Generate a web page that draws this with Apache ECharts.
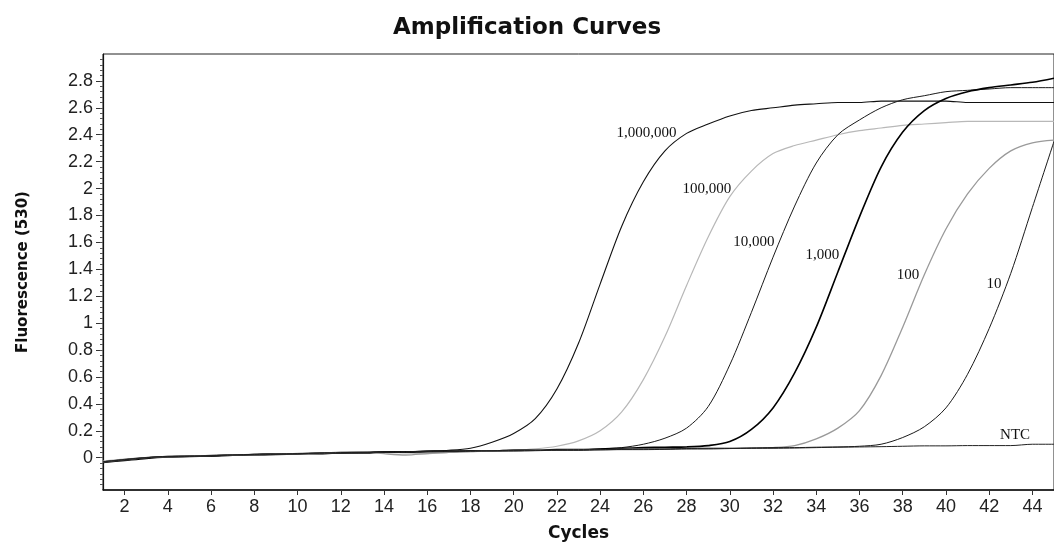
<!DOCTYPE html>
<html>
<head>
<meta charset="utf-8">
<title>Amplification Curves</title>
<script src="https://cdn.jsdelivr.net/npm/echarts@6/dist/echarts.min.js"></script>
<style>
  html, body { margin: 0; padding: 0; background: #fff; }
  #chart { width: 1054px; height: 547px; }
</style>
</head>
<body>
<div id="chart"></div>
<script>
// PCR cycle numbers (one fluorescence reading per cycle)
const cycles = [1, 2, 3, 4, 5, 6, 7, 8, 9, 10, 11, 12, 13, 14, 15, 16, 17, 18, 19, 20,
  21, 22, 23, 24, 25, 26, 27, 28, 29, 30, 31, 32, 33, 34, 35, 36, 37, 38, 39, 40,
  41, 42, 43, 44, 45];

// Fluorescence (530 nm) per template copy number
const copies1000000 = [-0.03, -0.015, 0, 0.008, 0.01, 0.015, 0.02, 0.025, 0.03, 0.03,
  0.035, 0.04, 0.04, 0.045, 0.045, 0.05, 0.055, 0.07, 0.115, 0.18,
  0.29, 0.51, 0.85, 1.29, 1.72, 2.05, 2.28, 2.41, 2.48, 2.54,
  2.58, 2.60, 2.62, 2.63, 2.64, 2.64, 2.65, 2.65, 2.65, 2.65,
  2.64, 2.64, 2.64, 2.64, 2.64];
const copies100000 = [-0.025, -0.01, 0, 0.01, 0.012, 0.015, 0.02, 0.02, 0.025, 0.03,
  0.03, 0.035, 0.04, 0.04, 0.035, 0.03, 0.04, 0.045, 0.05, 0.055,
  0.065, 0.085, 0.125, 0.2, 0.34, 0.58, 0.9, 1.28, 1.64, 1.94,
  2.13, 2.26, 2.32, 2.36, 2.40, 2.43, 2.45, 2.47, 2.48, 2.49,
  2.50, 2.50, 2.50, 2.50, 2.50];
const copies10000 = [-0.03, -0.012, 0.002, 0.01, 0.012, 0.018, 0.022, 0.025, 0.028, 0.032,
  0.035, 0.038, 0.04, 0.042, 0.045, 0.048, 0.05, 0.05, 0.052, 0.055,
  0.055, 0.058, 0.06, 0.065, 0.075, 0.1, 0.145, 0.22, 0.38, 0.69,
  1.08, 1.49, 1.87, 2.19, 2.40, 2.51, 2.60, 2.66, 2.69, 2.72,
  2.73, 2.74, 2.75, 2.75, 2.75];
const copies1000 = [-0.035, -0.02, -0.005, 0.005, 0.01, 0.012, 0.018, 0.02, 0.025, 0.028,
  0.03, 0.035, 0.035, 0.04, 0.04, 0.045, 0.045, 0.05, 0.05, 0.055,
  0.055, 0.06, 0.06, 0.065, 0.07, 0.075, 0.078, 0.08, 0.09, 0.12,
  0.21, 0.37, 0.63, 0.97, 1.38, 1.79, 2.16, 2.42, 2.58, 2.67,
  2.72, 2.75, 2.77, 2.79, 2.82];
const copies100 = [-0.03, -0.015, 0, 0.008, 0.012, 0.015, 0.02, 0.022, 0.028, 0.03,
  0.033, 0.04, 0.045, 0.03, 0.02, 0.03, 0.04, 0.045, 0.05, 0.05,
  0.055, 0.055, 0.06, 0.06, 0.062, 0.065, 0.065, 0.068, 0.07, 0.07,
  0.072, 0.075, 0.09, 0.14, 0.22, 0.35, 0.61, 0.97, 1.36, 1.70,
  1.96, 2.15, 2.28, 2.34, 2.36];
const copies10 = [-0.03, -0.015, 0, 0.01, 0.01, 0.015, 0.02, 0.025, 0.028, 0.03,
  0.035, 0.038, 0.04, 0.042, 0.045, 0.048, 0.05, 0.05, 0.052, 0.055,
  0.055, 0.058, 0.06, 0.06, 0.062, 0.065, 0.065, 0.068, 0.07, 0.07,
  0.072, 0.075, 0.075, 0.078, 0.08, 0.085, 0.10, 0.15, 0.23, 0.37,
  0.62, 0.96, 1.37, 1.86, 2.35];
const noTemplate = [-0.03, -0.015, 0, 0.008, 0.012, 0.015, 0.02, 0.022, 0.025, 0.03,
  0.032, 0.035, 0.038, 0.04, 0.04, 0.045, 0.045, 0.048, 0.05, 0.05,
  0.052, 0.055, 0.055, 0.058, 0.06, 0.06, 0.062, 0.065, 0.065, 0.068,
  0.07, 0.07, 0.072, 0.075, 0.078, 0.08, 0.082, 0.085, 0.088, 0.088,
  0.09, 0.09, 0.09, 0.1, 0.1];

// Curve names and the cycle at which each name is written beside its curve
const curveNames = ['1,000,000', '100,000', '10,000', '1,000', '100', '10', 'NTC'];
const labelCycles = [28, 30.3, 32.3, 35.3, 39.0, 42.8, 43.2];

// Axis tick labels
const xTickLabels = [2, 4, 6, 8, 10, 12, 14, 16, 18, 20, 22, 24, 26, 28, 30, 32, 34, 36, 38, 40, 42, 44];
const yTickLabels = [0, 0.2, 0.4, 0.6, 0.8, 1, 1.2, 1.4, 1.6, 1.8, 2, 2.2, 2.4, 2.6, 2.8];

const curveValues = [copies1000000, copies100000, copies10000, copies1000, copies100, copies10, noTemplate];

// line look per curve: [colour, width]
const curveStyles = [
  ['#111111', 1.1],
  ['#b8b8b8', 1.2],
  ['#1a1a1a', 1.0],
  ['#000000', 1.6],
  ['#9a9a9a', 1.3],
  ['#1a1a1a', 1.0],
  ['#222222', 1.0]
];

// linear read-off of a curve at a fractional cycle
function valueAt(values, cycle) {
  const i = Math.floor(cycle) - 1;
  const f = cycle - Math.floor(cycle);
  if (i >= values.length - 1) return values[values.length - 1];
  return values[i] + (values[i + 1] - values[i]) * f;
}

// small minor ticks along the fluorescence axis
const minorTicks = [];
for (let k = -5; k <= 74; k++) minorTicks.push(+(k * 0.04).toFixed(2));

const series = curveNames.map(function (name, idx) {
  const vals = curveValues[idx];
  const isNtc = name === 'NTC';
  const lc = labelCycles[idx];
  return {
    name: name,
    type: 'line',
    yAxisIndex: 0,
    data: cycles.map(function (c, i) { return [c, vals[i]]; }),
    showSymbol: false,
    smooth: 0.3,
    clip: true,
    lineStyle: { color: curveStyles[idx][0], width: curveStyles[idx][1] },
    emphasis: { disabled: true },
    z: isNtc ? 3 : 2,
    markPoint: {
      silent: true,
      symbol: 'circle',
      symbolSize: 0,
      data: [{
        coord: [lc, valueAt(vals, lc)],
        label: {
          show: true,
          formatter: name,
          position: isNtc ? 'top' : 'left',
          distance: isNtc ? 3 : (idx === 0 ? 10 : 5),
          fontFamily: 'Liberation Serif',
          fontSize: 15,
          color: '#111'
        }
      }]
    }
  };
});

const chart = echarts.init(document.getElementById('chart'), null, { renderer: 'canvas' });
chart.setOption({
  animation: false,
  backgroundColor: '#ffffff',
  title: {
    text: 'Amplification Curves',
    left: 'center',
    top: 12,
    textStyle: {
      fontFamily: 'DejaVu Sans',
      fontWeight: 'bold',
      fontSize: 23,
      color: '#111'
    }
  },
  grid: {
    left: 103,
    right: -10,
    top: 54,
    bottom: 55,
    show: true,
    borderColor: '#222',
    borderWidth: 1,
    containLabel: false
  },
  xAxis: {
    type: 'value',
    min: 1,
    max: 45,
    name: 'Cycles',
    nameLocation: 'middle',
    nameGap: 35,
    nameTextStyle: {
      fontFamily: 'DejaVu Sans',
      fontWeight: 'bold',
      fontSize: 17,
      color: '#111'
    },
    axisLine: { show: true, onZero: false, lineStyle: { color: '#111', width: 1.5 } },
    axisTick: {
      show: true,
      customValues: xTickLabels,
      length: 5,
      lineStyle: { color: '#333' }
    },
    axisLabel: {
      customValues: xTickLabels,
      margin: 8,
      fontFamily: 'Liberation Sans',
      fontSize: 18,
      color: '#222'
    },
    splitLine: { show: false }
  },
  yAxis: [{
    type: 'value',
    min: -0.24,
    max: 3.0,
    name: 'Fluorescence (530)',
    nameLocation: 'middle',
    nameRotate: 90,
    nameGap: 72,
    nameTextStyle: {
      fontFamily: 'DejaVu Sans',
      fontWeight: 'bold',
      fontSize: 15,
      color: '#111'
    },
    axisLine: { show: true, onZero: false, lineStyle: { color: '#111', width: 1.2 } },
    axisTick: {
      show: true,
      customValues: yTickLabels,
      length: 7,
      lineStyle: { color: '#333' }
    },
    axisLabel: {
      customValues: yTickLabels,
      margin: 10,
      fontFamily: 'Liberation Sans',
      fontSize: 18,
      color: '#222',
      formatter: function (v) { return String(+(+v).toFixed(1)); }
    },
    splitLine: { show: false }
  }, {
    type: 'value',
    min: -0.24,
    max: 3.0,
    position: 'left',
    axisLine: { show: false, onZero: false },
    axisTick: {
      show: true,
      customValues: minorTicks,
      length: 3,
      lineStyle: { color: '#555' }
    },
    axisLabel: { show: false },
    splitLine: { show: false }
  }],
  series: series
});
</script>
</body>
</html>
